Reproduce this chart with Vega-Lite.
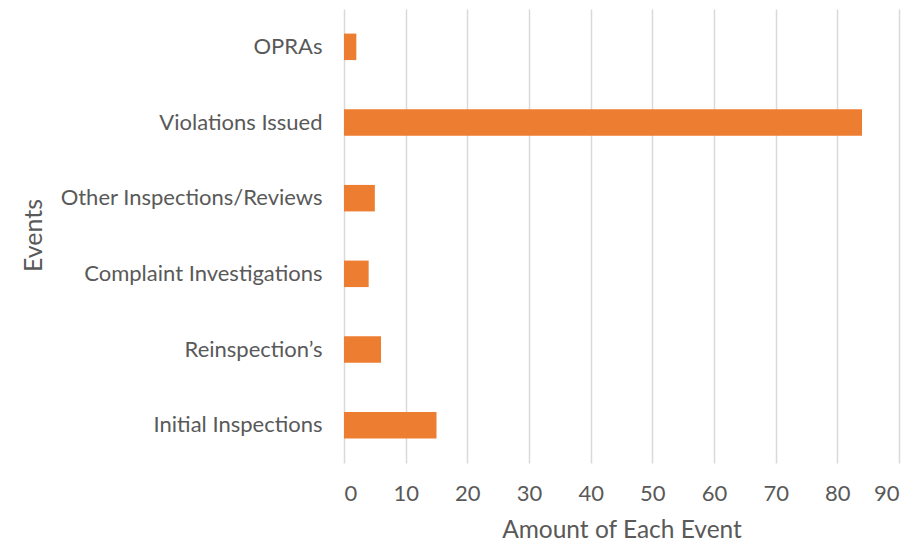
{
  "$schema": "https://vega.github.io/schema/vega-lite/v6.json",
  "width": 555,
  "height": 454,
  "autosize": {"type": "none"},
  "padding": {"left": 344, "top": 9, "right": 25, "bottom": 84},
  "background": "white",
  "config": {"view": {"stroke": null}, "font": "Lato"},
  "data": {"values": [
    {"event": "OPRAs ", "amount": 2},
    {"event": "Violations Issued", "amount": 84},
    {"event": "Other Inspections/Reviews", "amount": 5},
    {"event": "Complaint Investigations", "amount": 4},
    {"event": "Reinspection’s", "amount": 6},
    {"event": "Initial Inspections", "amount": 15}
  ]},
  "mark": {"type": "bar", "color": "#ED7D31"},
  "encoding": {
    "y": {
      "field": "event", "type": "nominal", "sort": null,
      "scale": {"paddingInner": 0.65, "paddingOuter": 0.325},
      "axis": {
        "title": "Events", "titleFontSize": 25, "titleFontWeight": "normal", "titleColor": "#595959",
        "titleX": -311, "titleY": 226, "titleAngle": -90, "titleAlign": "center", "titleBaseline": "middle",
        "labelFontSize": 22, "labelColor": "#595959", "labelPadding": 22, "labelLimit": 400, "ticks": false,
        "domain": false, "grid": false
      }
    },
    "x": {
      "field": "amount", "type": "quantitative",
      "scale": {"domain": [0, 90], "nice": false},
      "axis": {
        "title": "Amount of Each Event", "titleFontSize": 24.5, "titleFontWeight": "normal", "titleColor": "#595959", "titlePadding": 14,
        "values": [0, 10, 20, 30, 40, 50, 60, 70, 80, 90],
        "labelFontSize": 22, "labelColor": "#595959", "labelPadding": 20,
        "ticks": false, "domain": false,
        "grid": true, "gridColor": "#d9d9d9", "gridWidth": 1.5
      }
    }
  }
}
